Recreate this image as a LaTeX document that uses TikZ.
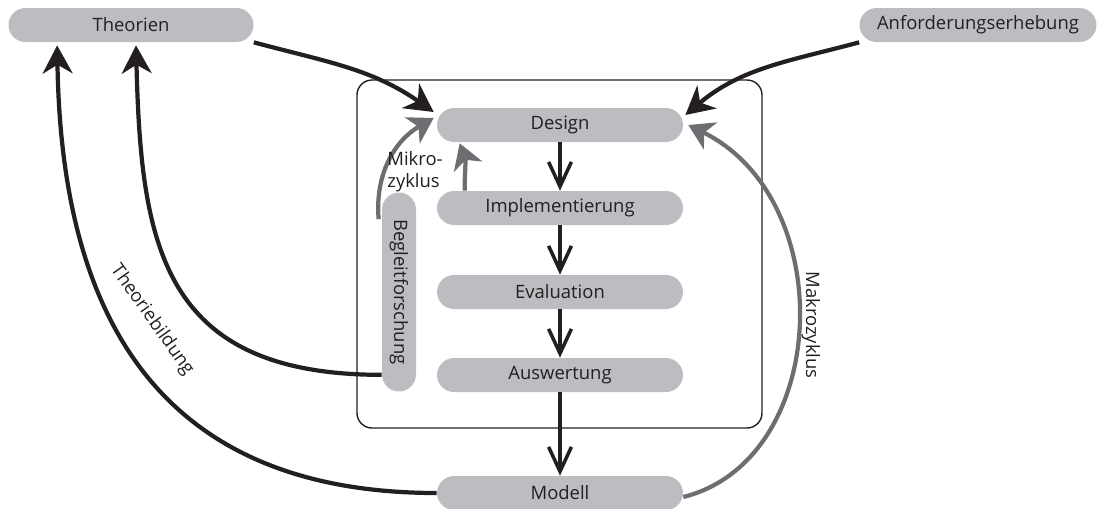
\documentclass[tikz,border=0pt]{standalone}
\usepackage{fontspec}
\setmainfont{Open Sans}
\usetikzlibrary{arrows.meta,calc}
\definecolor{BoxGrey}{HTML}{BCBDC0}
\definecolor{ArrowGrey}{HTML}{6D6E71}
\definecolor{InkBlack}{HTML}{231F20}

\begin{document}
\begin{tikzpicture}[%
    x=0.02cm, y=0.02cm,%
    phase/.style={fill=BoxGrey, rounded corners=0.34cm, minimum width=4.92cm,%
      minimum height=0.68cm, inner sep=0pt, text=InkBlack,%
      font=\fontsize{10.5}{12.5}\selectfont},%
    txt/.style={text=InkBlack, inner sep=1pt, font=\fontsize{10.5}{12.5}\selectfont},%
    flow/.style={draw=InkBlack, line width=2pt, -{Straight Barb[length=14pt,width=13pt]}},%
    feed/.style={draw=InkBlack, line width=2.4pt, -{Stealth[length=16pt,width=17pt,inset=5pt]}},%
    zyklus/.style={draw=ArrowGrey, line width=2.4pt, -{Stealth[length=14pt,width=17pt,inset=4pt]}}%
  ]
  \useasboundingbox (0,0) rectangle (1099,-508);%

  %
  % Rahmen
  %
  \draw[InkBlack, line width=0.8pt, rounded corners=0.3cm] (357,-80) rectangle (762,-428);%

  %
  % Knoten
  %
  \node[phase] (design) at (560,-125) {Design};%
  \node[phase] (impl) at (560,-208) {Implementierung};%
  \node[phase] (eval) at (560,-292) {Evaluation};%
  \node[phase] (ausw) at (560,-375) {Auswertung};%
  \node[phase] (modell) at (560,-493) {Modell};%
  \node[phase, minimum width=4.9cm] (theorien) at (131,-25) {Theorien};%
  \node[phase, minimum width=4.74cm] (anford) at (978,-25) {Anforderungserhebung};%
  \node[phase, minimum width=0.68cm, minimum height=3.98cm] (begl) at (399,-292)%
  {\rotatebox{-90}{Begleitforschung}};%

  % Ablauf
  \foreach \a/\b in {design/impl,impl/eval,eval/ausw,ausw/modell} {%
      \draw[flow] (\a) -- (\b);%
    }%

  % Zufluss
  \draw[feed] (theorien.south east) to[out=-15,in=145] ($(design.west)+(-3,13)$);%
  \draw[feed] (anford.south west) to[out=195,in=40] ($(design.east)+(2,10)$);%
  \draw[feed] ($(begl.south west)+(0,17)$) .. controls +(-220,0) and +(5,-200) .. ($(theorien.south)+(5,-3)$);%
  \draw[feed] (modell.west) .. controls +(-290,0) and +(4,-255) .. ($(theorien.south west)+(49,-3)$);%

  % Zyklen
  \draw[zyklus] ($(begl.north west)+(-3,-27)$) to[out=95,in=210] ($(design.west)+(-3,7)$);%
  \draw[zyklus] ($(impl.north west)+(28,0)$) to[out=90,in=-70] ($(design.south west)+(23,-1)$);%
  \draw[zyklus] ($(modell.east)+(0,-4)$) .. controls +(147,37) and +(152,-75) .. ($(design.east)+(5,0)$);%

  % Beschriftung
  \node[txt, align=left] (mikro) at (415,-172) {Mikro-\\zyklus};%
  \node[txt, rotate=-54.6] (bildung) at (152,-320) {Theoriebildung};%
  \node[txt, rotate=-90] (makro) at (811,-325) {Makrozyklus};%
\end{tikzpicture}
\end{document}
